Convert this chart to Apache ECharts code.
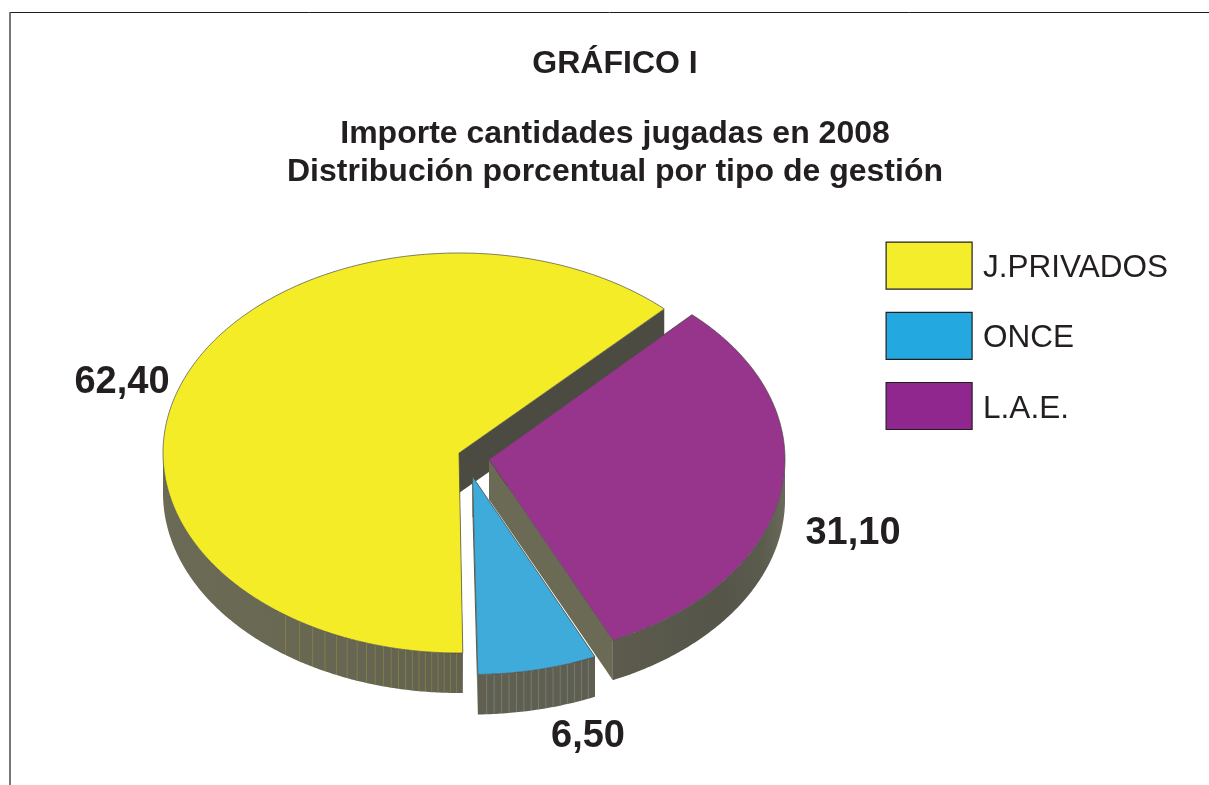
<!DOCTYPE html>
<html><head><meta charset="utf-8">
<style>html,body{margin:0;padding:0;background:#fff}#c{width:1209px;height:785px}</style>
<script src="https://cdn.jsdelivr.net/npm/echarts@6/dist/echarts.min.js"></script>
</head><body><div id="c"></div>
<script>
const categories = ['J.PRIVADOS', 'ONCE', 'L.A.E.'];
const values = [62.40, 6.50, 31.10];
const valueLabels = ['62,40', '6,50', '31,10'];
const sliceColors = ['#f5ec28', '#3fabdb', '#96358b'];
const legendColors = ['#f4ed2b', '#23a8e0', '#90278e'];
const stripeColors = ['#9c9640', '#7f9fa3', '#806a80'];
const drawOrder = [0, 2, 1];

const pie = {rx: 296, depth: 40, startAngle: 43.9};
const radiiY = [200, 198, 199];
const tilts = [0, -0.3, -0.6];
const apexes = [[459, 453], [472.5, 476.5], [489, 459.5]];
const labelCentres = [[122, 383], [588, 737], [853, 534]];
const ink = '#231f20';

// counter-clockwise angular spans (degrees clockwise from the top) from the values
const total = values.reduce((a, b) => a + b, 0);
const spans = [];
let cursor = pie.startAngle;
values.forEach((v, i) => {
  const sweep = v / total * 360;
  spans.push([cursor - sweep + tilts[i], cursor + tilts[i]]);
  cursor -= sweep;
});

function rimOf(i) {
  const c = apexes[i];
  return (deg, down) => {
    const t = deg * Math.PI / 180;
    return [c[0] + pie.rx * Math.sin(t), c[1] - radiiY[i] * Math.cos(t) + (down || 0)];
  };
}
function wallFill(i) {
  const stopsByX = [
    [[162, '#6b6a55'], [283, '#696853'], [462, '#636250']],
    [[475, '#615f50'], [596, '#5f5e50']],
    [[612, '#5c5b4d'], [720, '#55554a'], [760, '#5a5a4d'], [785, '#6a6a5a']]
  ][i];
  const x0 = stopsByX[0][0], x1 = stopsByX[stopsByX.length - 1][0];
  return {type: 'linear', global: true, x: x0, y: 0, x2: x1, y2: 0,
    colorStops: stopsByX.map(s => ({offset: (s[0] - x0) / (x1 - x0), color: s[1]}))};
}
function stripeAngles(i) {
  const [a0, a1] = spans[i];
  const out = [];
  if (i === 0) {
    let d = a0 + 360;
    for (let k = 0; k < 21; k++) { d += 1.2 + 2.4 * Math.pow(k / 21, 3); out.push(d); }
  } else if (i === 1) {
    for (let d = a0 + 1.4; d < a1 - 0.5; d += 1.45) out.push(d);
  } else {
    for (let k = 0, d = a1; d > 100 && k < 30; k++) { d -= 3 + k * 0.2; out.push(d); }
  }
  return out;
}

function renderSlice(params, api) {
  const i = categories.indexOf(params.seriesName);
  const c = apexes[i];
  const rim = rimOf(i);
  const [a0, a1] = spans[i];
  const children = [];
  const poly = (points, fill, stroke, lw) => children.push({
    type: 'polygon', shape: {points},
    style: {fill, stroke: stroke || 'none', lineWidth: lw || 0}
  });
  // cut faces
  const cd = [c[0], c[1] + pie.depth];
  [a0, a1].forEach(a => {
    const norm = ((a % 360) + 360) % 360;
    poly([c, rim(a), rim(a, pie.depth), cd], norm < 90 ? '#4c4b42' : '#6b6a55');
  });
  // outer wall: the front part of the span only
  const shift = a0 < 0 ? 360 : 0;
  const from = Math.max(a0 + shift, 90), to = Math.min(a1 + shift, 270);
  if (to > from) {
    const up = [], low = [];
    for (let a = from; a < to; a += 0.5) { up.push(rim(a)); low.unshift(rim(a, pie.depth)); }
    up.push(rim(to)); low.unshift(rim(to, pie.depth));
    poly(up.concat(low), wallFill(i));
  }
  stripeAngles(i).forEach(a => {
    const p = rim(a), q = rim(a, pie.depth);
    children.push({type: 'line', shape: {x1: p[0], y1: p[1], x2: q[0], y2: q[1]},
      style: {stroke: stripeColors[i], lineWidth: 0.7, opacity: i === 2 ? 0.45 : 0.7}});
  });
  // top face
  const top = [c];
  for (let a = a0; a < a1; a += 0.5) top.push(rim(a));
  top.push(rim(a1));
  poly(top, sliceColors[i], '#4a4a44', 0.7);
  // value label
  children.push({type: 'text', x: labelCentres[i][0], y: labelCentres[i][1],
    style: {text: valueLabels[i], fill: ink, align: 'center', verticalAlign: 'middle',
      font: 'bold 38px "Liberation Sans", Arial, sans-serif'}});
  return {type: 'group', children};
}

const chart = echarts.init(document.getElementById('c'), null, {renderer: 'canvas'});
chart.setOption({
  animation: false,
  backgroundColor: '#fff',
  title: [
    {text: 'GRÁFICO I', left: 610, top: 43, textAlign: 'center',
      textStyle: {fontFamily: '"Liberation Sans"', fontWeight: 'bold', fontSize: 32, color: ink}},
    {text: 'Importe cantidades jugadas en 2008\nDistribución porcentual por tipo de gestión',
      left: 610, top: 110, textAlign: 'center',
      textStyle: {fontFamily: '"Liberation Sans"', fontWeight: 'bold', fontSize: 32, lineHeight: 38, color: ink}}
  ],
  legend: {
    orient: 'vertical', left: 885.5, top: 241.5, padding: 0,
    itemWidth: 86, itemHeight: 47, itemGap: 22, icon: 'rect', selectedMode: false,
    formatter: name => '{s| }{a|' + name + '}',
    textStyle: {
      fontFamily: '"Liberation Sans"', fontSize: 31.5, color: ink,
      rich: {
        s: {width: 6, height: 42, fontSize: 31.5, fontFamily: '"Liberation Sans"'},
        a: {height: 36, lineHeight: 36, verticalAlign: 'bottom', fontSize: 31.5,
          fontFamily: '"Liberation Sans"', color: ink}
      }
    },
    data: categories.map((name, i) => ({name,
      itemStyle: {color: legendColors[i], borderColor: ink, borderWidth: 1.2}}))
  },
  series: drawOrder.map((i, z) => ({
    type: 'custom', name: categories[i], coordinateSystem: 'none', z: z + 2,
    itemStyle: {color: legendColors[i]},
    renderItem: renderSlice, silent: true,
    data: [values[i]]
  })),
  graphic: [
    {type: 'line', shape: {x1: 10, y1: 12.5, x2: 1209, y2: 12.5}, style: {stroke: '#1c1c1c', lineWidth: 1}},
    {type: 'line', shape: {x1: 10, y1: 12, x2: 10, y2: 785}, style: {stroke: '#555', lineWidth: 1.6}}
  ]
});
</script></body></html>
